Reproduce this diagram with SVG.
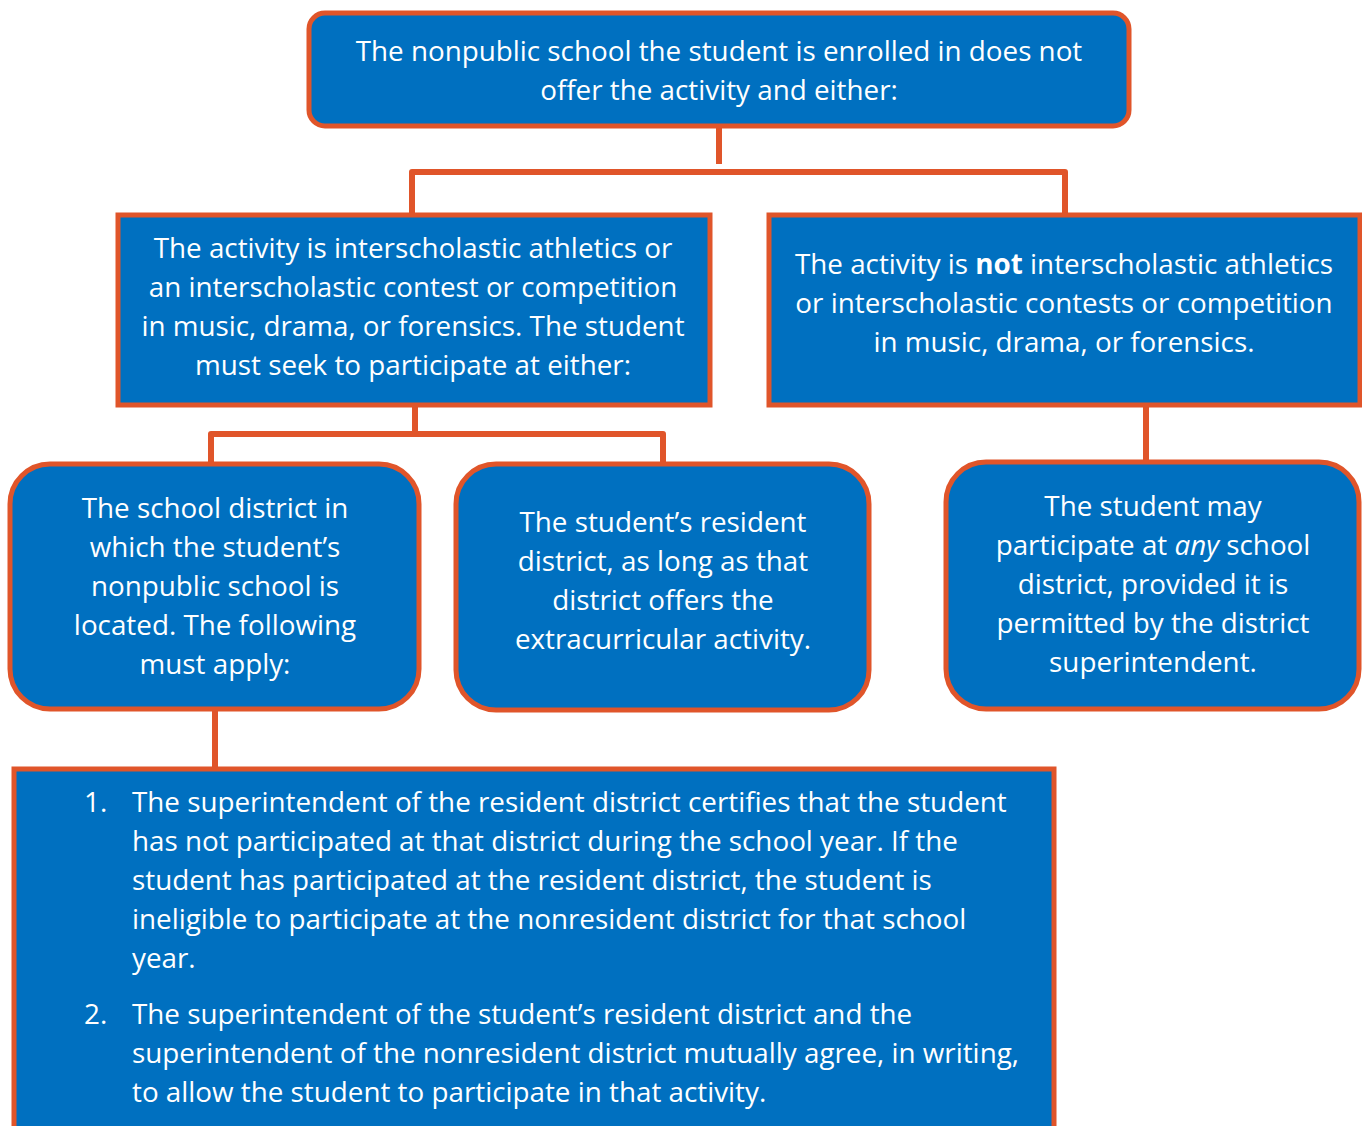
<svg xmlns="http://www.w3.org/2000/svg" width="1362" height="1126" viewBox="0 0 1362 1126">
<style>
.box{fill:#0070C0;stroke:#E0552A;stroke-width:5}
.con{fill:none;stroke:#E0552A;stroke-width:6;stroke-linejoin:round}
text{font-family:"Open Sans","Noto Sans",sans-serif;font-size:27.8px;fill:#ffffff}
.c{text-anchor:middle}
</style>
<rect width="1362" height="1126" fill="#ffffff"/>
<g id="connectors">
<path class="con" d="M719,127 V164"/>
<path class="con" d="M412,214 V172 H1065 V214"/>
<path class="con" d="M415,406 V434"/>
<path class="con" d="M211,463 V434 H663 V463"/>
<path class="con" d="M1146,406 V461"/>
<path class="con" d="M215,710 V768"/>
</g>
<g id="n1">
<rect class="box" x="309" y="13" width="820" height="113" rx="16"/>
<text class="c" x="719" y="61">The nonpublic school the student is enrolled in does not</text>
<text class="c" x="719" y="100">offer the activity and either:</text>
</g>
<g id="n2">
<rect class="box" x="118" y="215" width="592" height="190"/>
<text class="c" x="413" y="258">The activity is interscholastic athletics or</text>
<text class="c" x="413" y="297">an interscholastic contest or competition</text>
<text class="c" x="413" y="336">in music, drama, or forensics. The student</text>
<text class="c" x="413" y="375">must seek to participate at either:</text>
</g>
<g id="n3">
<rect class="box" x="769" y="215" width="591" height="190"/>
<text class="c" x="1064" y="274">The activity is <tspan font-weight="bold">not</tspan> interscholastic athletics</text>
<text class="c" x="1064" y="313">or interscholastic contests or competition</text>
<text class="c" x="1064" y="352">in music, drama, or forensics.</text>
</g>
<g id="n4">
<rect class="box" x="10" y="464" width="409" height="245" rx="40"/>
<text class="c" x="215" y="518">The school district in</text>
<text class="c" x="215" y="557">which the student’s</text>
<text class="c" x="215" y="596">nonpublic school is</text>
<text class="c" x="215" y="635">located. The following</text>
<text class="c" x="215" y="674">must apply:</text>
</g>
<g id="n5">
<rect class="box" x="456" y="464" width="413" height="246" rx="40"/>
<text class="c" x="663" y="532">The student’s resident</text>
<text class="c" x="663" y="571">district, as long as that</text>
<text class="c" x="663" y="610">district offers the</text>
<text class="c" x="663" y="649">extracurricular activity.</text>
</g>
<g id="n6">
<rect class="box" x="946" y="462" width="413" height="247" rx="40"/>
<text class="c" x="1153" y="516">The student may</text>
<text class="c" x="1153" y="555">participate at <tspan font-style="italic">any</tspan> school</text>
<text class="c" x="1153" y="594">district, provided it is</text>
<text class="c" x="1153" y="633">permitted by the district</text>
<text class="c" x="1153" y="672">superintendent.</text>
</g>
<g id="n7">
<rect class="box" x="14" y="769" width="1040" height="370"/>
<text x="84" y="812">1.</text>
<text x="132" y="812">The superintendent of the resident district certifies that the student</text>
<text x="132" y="851">has not participated at that district during the school year. If the</text>
<text x="132" y="890">student has participated at the resident district, the student is</text>
<text x="132" y="929">ineligible to participate at the nonresident district for that school</text>
<text x="132" y="968">year.</text>
<text x="84" y="1024">2.</text>
<text x="132" y="1024">The superintendent of the student’s resident district and the</text>
<text x="132" y="1063">superintendent of the nonresident district mutually agree, in writing,</text>
<text x="132" y="1102">to allow the student to participate in that activity.</text>
</g>
</svg>
